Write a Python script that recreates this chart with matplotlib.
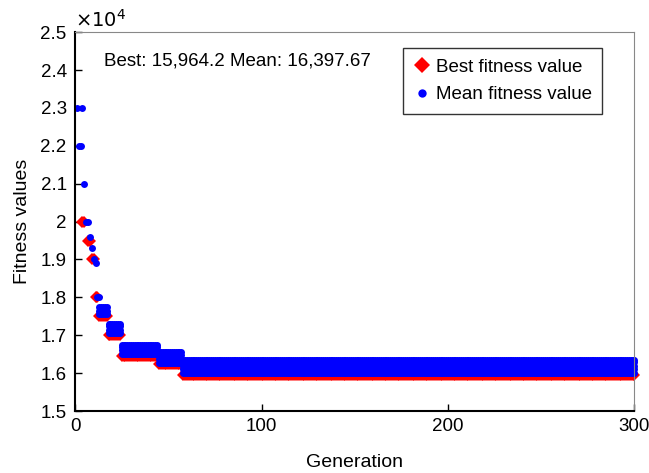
import numpy as np
from matplotlib import pyplot as plt
from matplotlib.ticker import FuncFormatter

plt.rcParams['font.family'] = ['Liberation Sans', 'DejaVu Sans']

# early generations, read point by point
best_gen = [4, 5, 7, 8, 9, 10, 11, 12]
best_val = [20000, 20000, 19500, 19500, 19000, 19000, 18000, 18000]
mean_gen = [1, 2, 3, 4, 5, 6, 7, 8, 9, 10, 11, 12, 13]
mean_val = [23000, 22000, 22000, 23000, 21000, 20000, 20000, 19600, 19300, 19000, 18900, 18000, 18000]

# flat stretches: first gen, last gen, best value, mean levels seen in the band
seg_start = [13, 18, 25, 45, 58]
seg_end = [17, 24, 44, 57, 300]
seg_best = [17500, 17000, 16450, 16240, 15964.2]
seg_mean = [[17550, 17650, 17750],
            [17050, 17150, 17250, 17300],
            [16500, 16600, 16700, 16750],
            [16280, 16380, 16480, 16560],
            [16000, 16100, 16200, 16300, 16350]]

bx, by, mx, my = list(best_gen), list(best_val), list(mean_gen), list(mean_val)
for s, e, b, levels in zip(seg_start, seg_end, seg_best, seg_mean):
	g = np.arange(s, e + 1)
	bx += list(g)
	by += [b] * len(g)
	for lv in levels:
		mx += list(g)
		my += [lv] * len(g)

fig = plt.figure(figsize=(6.49, 4.73), dpi=100)
ax = fig.add_axes([0.1156, 0.131, 0.862, 0.801])

ax.plot(bx, by, 'D', color='red', markersize=6.5, markeredgewidth=0, clip_on=False, label='Best fitness value')
ax.plot(mx, my, 'o', color='blue', markersize=5, markeredgewidth=0, clip_on=False, label='Mean fitness value')

ax.set_xlim(0, 300)
ax.set_ylim(15000, 25000)
ax.set_xticks([0, 100, 200, 300])
ax.set_yticks(np.arange(15000, 25001, 1000))
ax.yaxis.set_major_formatter(FuncFormatter(lambda v, p: '%g' % round(v / 1e4, 2)))
ax.tick_params(direction='in', length=5, labelsize=13.5, width=1)
ax.tick_params(axis='x', pad=5)
ax.tick_params(axis='y', pad=6)
for side in ['top', 'right']:
	ax.spines[side].set_color('#888888')
for side in ['left', 'bottom']:
	ax.spines[side].set_linewidth(1.5)

ax.text(0, 1.003, r'$\times10^4$', transform=ax.transAxes, fontsize=14, ha='left', va='bottom')
ax.text(0.052, 0.925, 'Best: 15,964.2 Mean: 16,397.67', transform=ax.transAxes, fontsize=13.5, ha='left', va='center')

ax.set_xlabel('Generation', fontsize=14, labelpad=14)
ax.set_ylabel('Fitness values', fontsize=14, labelpad=7)

leg = ax.legend(loc='upper right', bbox_to_anchor=(0.952, 0.972), fontsize=13.5, handletextpad=0.3,
	handlelength=0.9, fancybox=False, framealpha=1, edgecolor='#333333', borderpad=0.55,
	labelspacing=0.55, borderaxespad=0.3, markerscale=1.2)
leg.get_frame().set_linewidth(1)

plt.savefig('out.png', dpi=100)
